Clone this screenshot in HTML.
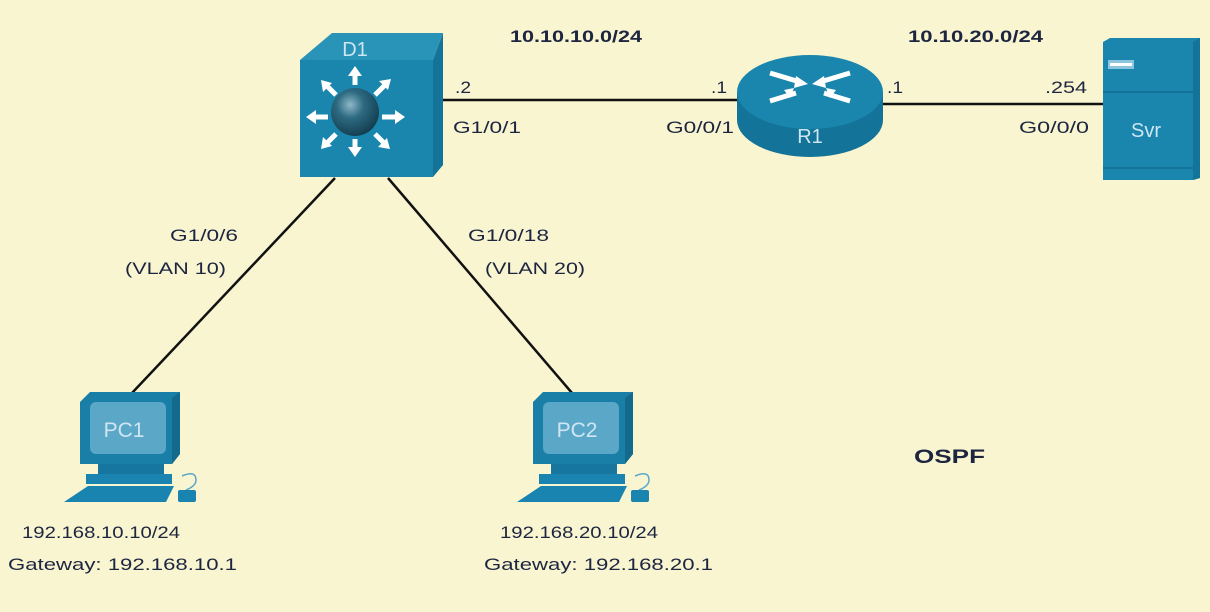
<!DOCTYPE html>
<html><head><meta charset="utf-8"><style>
body{margin:0;background:#f8f5d0;}
svg{display:block}
text{font-family:"Liberation Sans",sans-serif;font-size:17px;fill:#1e2540}
.b{font-weight:bold}
.w{fill:#cfe6f2;font-size:21px}
</style></head><body>
<svg width="1210" height="612" viewBox="0 0 1210 612">
<rect width="1210" height="612" fill="#f8f5d0"/>
<defs>
<radialGradient id="ball" cx="0.4" cy="0.35" r="0.7"><stop offset="0" stop-color="#8fb8c8"/><stop offset="0.4" stop-color="#2d6a82"/><stop offset="1" stop-color="#123a4c"/></radialGradient>
<g id="pc">
<path d="M0 10 L10 0 L100 0 L100 62 L92 72 L0 72 Z" fill="#1a7fa6"/>
<path d="M92 6 L100 0 L100 62 L92 72 Z" fill="#146a8c"/>
<rect x="10" y="10" width="76" height="52" rx="6" fill="#5aa7c8"/>
<rect x="18" y="72" width="66" height="10" fill="#1676a0"/>
<rect x="6" y="82" width="86" height="10" fill="#1a84b0"/>
<path d="M8 94 L94 94 L86 110 L-16 110 Z" fill="#1a84b0"/>
<path d="M102 84 q14 -6 14 4 q0 6 -10 10" fill="none" stroke="#5aa7c8" stroke-width="1.5"/>
<rect x="98" y="98" width="18" height="12" rx="2" fill="#1a84b0"/>
</g>
</defs>
<g stroke="#111" stroke-width="2.5" fill="none">
<line x1="443" y1="100" x2="740" y2="100"/>
<line x1="880" y1="104" x2="1104" y2="104"/>
<line x1="335" y1="178" x2="132" y2="393"/>
<line x1="388" y1="178" x2="572" y2="393"/>
</g>
<path d="M300 60 L332 33 L443 33 L433 60 Z" fill="#2a93b8"/>
<path d="M433 60 L443 33 L443 165 L433 177 Z" fill="#137399"/>
<rect x="300" y="60" width="133" height="117" fill="#1a85ad"/>
<circle cx="355" cy="112" r="24" fill="url(#ball)"/>
<g stroke="#fff" stroke-width="5" fill="#fff">
<line x1="355" y1="85" x2="355" y2="75"/><line x1="355" y1="139" x2="355" y2="150"/>
<line x1="328" y1="117" x2="315" y2="117"/><line x1="382" y1="117" x2="397" y2="117"/>
<line x1="336" y1="95" x2="327" y2="86"/><line x1="375" y1="95" x2="385" y2="85"/>
<line x1="336" y1="134" x2="327" y2="143"/><line x1="375" y1="134" x2="384" y2="143"/>
</g>
<g fill="#fff">
<path d="M355 66 l-7 10 h14z"/><path d="M355 157 l-7 -10 h14z"/>
<path d="M306 117 l10 -7 v14z"/><path d="M405 117 l-10 -7 v14z"/>
<path d="M321 80 l2 12 l9 -9z"/><path d="M391 79 l-12 2 l9 9z"/>
<path d="M321 149 l2 -12 l9 9z"/><path d="M390 149 l-12 -2 l9 -9z"/>
</g>
<text x="355" y="56" class="w" text-anchor="middle" style="font-size:20px">D1</text>
<path d="M737 92 L737 120 A73 37 0 0 0 883 120 L883 92 Z" fill="#137399"/>
<ellipse cx="810" cy="92" rx="73" ry="37" fill="#1a85ad"/>
<g stroke="#fff" stroke-width="5" fill="#fff">
<line x1="770" y1="73" x2="800" y2="82"/><line x1="850" y1="73" x2="820" y2="82"/>
<line x1="770" y1="101" x2="796" y2="93"/><line x1="850" y1="101" x2="824" y2="93"/>
</g>
<g fill="#fff"><path d="M808 84 l-12 -8 l-2 12z"/><path d="M812 84 l12 -8 l2 12z"/><path d="M784 90 l10 -2 l-4 10z"/><path d="M836 90 l-10 -2 l4 10z"/></g>
<text x="810" y="143" class="w" text-anchor="middle" style="font-size:20px">R1</text>
<path d="M1103 42 L1110 38 L1200 38 L1200 178 L1193 180 L1103 180 Z" fill="#1a85ad"/>
<path d="M1193 42 L1200 38 L1200 178 L1193 180 Z" fill="#137399"/>
<line x1="1103" y1="92" x2="1193" y2="92" stroke="#137399" stroke-width="2"/>
<line x1="1103" y1="168" x2="1193" y2="168" stroke="#137399" stroke-width="2"/>
<rect x="1108" y="60" width="26" height="9" fill="#8cc6de"/><rect x="1110" y="63" width="22" height="3" fill="#fff"/>
<text x="1146" y="137" class="w" text-anchor="middle" style="font-size:20px">Svr</text>
<use href="#pc" x="80" y="392"/>
<use href="#pc" x="533" y="392"/>
<text x="124" y="437" class="w" text-anchor="middle">PC1</text>
<text x="577" y="437" class="w" text-anchor="middle">PC2</text>
<g>
<text x="510" y="42" class="b" textLength="132" lengthAdjust="spacingAndGlyphs">10.10.10.0/24</text>
<text x="908" y="42" class="b" textLength="135" lengthAdjust="spacingAndGlyphs">10.10.20.0/24</text>
<text x="455" y="93" textLength="16" lengthAdjust="spacingAndGlyphs">.2</text>
<text x="453" y="133" textLength="68" lengthAdjust="spacingAndGlyphs">G1/0/1</text>
<text x="711" y="93" textLength="16" lengthAdjust="spacingAndGlyphs">.1</text>
<text x="666" y="133" textLength="68" lengthAdjust="spacingAndGlyphs">G0/0/1</text>
<text x="887" y="93" textLength="16" lengthAdjust="spacingAndGlyphs">.1</text>
<text x="1045" y="93" textLength="42" lengthAdjust="spacingAndGlyphs">.254</text>
<text x="1019" y="133" textLength="70" lengthAdjust="spacingAndGlyphs">G0/0/0</text>
<text x="170" y="241" textLength="68" lengthAdjust="spacingAndGlyphs">G1/0/6</text>
<text x="125" y="274" textLength="101" lengthAdjust="spacingAndGlyphs">(VLAN 10)</text>
<text x="468" y="241" textLength="81" lengthAdjust="spacingAndGlyphs">G1/0/18</text>
<text x="485" y="274" textLength="100" lengthAdjust="spacingAndGlyphs">(VLAN 20)</text>
<text x="914" y="463" class="b" style="font-size:19px" textLength="71" lengthAdjust="spacingAndGlyphs">OSPF</text>
<text x="22" y="538" textLength="158" lengthAdjust="spacingAndGlyphs">192.168.10.10/24</text>
<text x="8" y="570" textLength="229" lengthAdjust="spacingAndGlyphs">Gateway: 192.168.10.1</text>
<text x="500" y="538" textLength="158" lengthAdjust="spacingAndGlyphs">192.168.20.10/24</text>
<text x="484" y="570" textLength="229" lengthAdjust="spacingAndGlyphs">Gateway: 192.168.20.1</text>
</g>
</svg>
</body></html>
